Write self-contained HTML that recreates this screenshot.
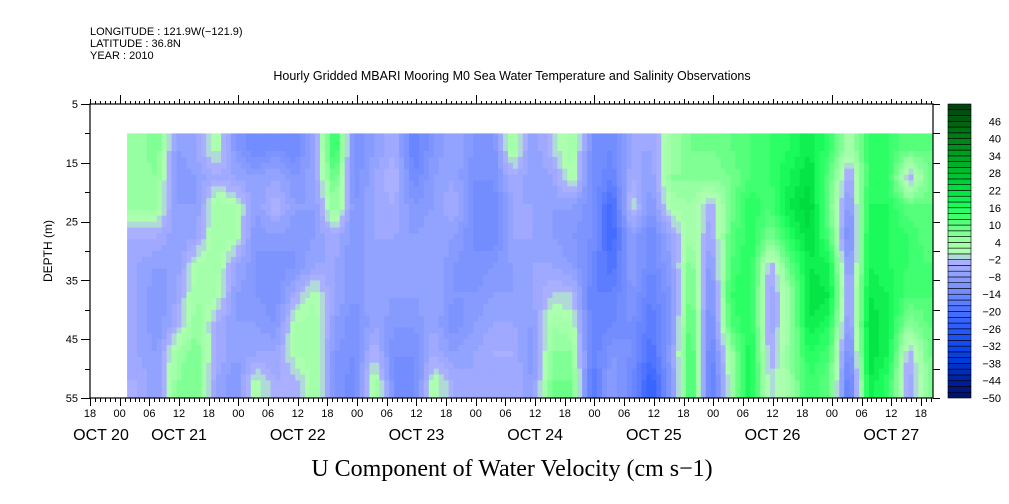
<!DOCTYPE html>
<html><head><meta charset="utf-8"><style>
body{margin:0;background:#fff;}
svg{display:block;font-family:"Liberation Sans",sans-serif;}
</style></head><body>
<svg id="chart" width="1009" height="504" viewBox="0 0 1009 504" xmlns="http://www.w3.org/2000/svg">
<text x="90" y="35" font-size="11">LONGITUDE : 121.9W(−121.9)</text>
<text x="90" y="47" font-size="11">LATITUDE : 36.8N</text>
<text x="90" y="59" font-size="11">YEAR : 2010</text>
<text x="512" y="80" font-size="12.5" text-anchor="middle">Hourly Gridded MBARI Mooring M0 Sea Water Temperature and Salinity Observations</text>
<text x="512" y="476" font-size="24" text-anchor="middle" font-family="Liberation Serif, serif">U Component of Water Velocity (cm s−1)</text>
<text x="0" y="0" font-size="12" text-anchor="middle" transform="translate(52,251) rotate(-90)">DEPTH (m)</text>
<g id="heat"></g>
<g id="axes"></g>
<g id="cbar"></g>
</svg>
<script>
// hours since Oct 20 18:00 at column start; each column spans 4 hours
const colStartHour = 7.5;
const colHours = 4;
const depthBands = [10,15,20,25,30,35,40,45,50,55];
const gridValues = [
[4,4,4,-4,-6,-6,-6,-6,-4],
[8,6,4,-4,-8,-10,-10,-8,-8],
[-8,-10,-8,-8,-8,-6,-4,4,6],
[-6,-8,-8,-6,2,4,6,8,8],
[2,-4,4,4,4,2,-4,-4,-6],
[-10,-6,2,2,-6,-8,-8,-8,-10],
[-14,-8,-8,-10,-10,-10,-8,-6,2],
[-12,-6,-2,-8,-12,-12,-10,-6,-4],
[-14,-10,-8,-10,-10,-4,2,2,-4],
[-6,-6,-8,-8,-6,2,4,4,4],
[16,10,6,-4,-6,-6,-8,-10,-10],
[-12,-12,-10,-10,-10,-10,-12,-12,-14],
[-8,-6,-6,-6,-6,-6,-6,-2,4],
[-4,-2,-4,-6,-8,-8,-10,-12,-12],
[-16,-14,-10,-8,-8,-8,-10,-12,-14],
[-10,-8,-8,-6,-6,-6,-6,-4,2],
[-6,-6,-4,-8,-10,-10,-12,-8,-4],
[-10,-12,-12,-12,-12,-10,-8,-6,-6],
[-12,-12,-14,-14,-10,-8,-6,-4,-6],
[4,-4,-6,-6,-8,-8,-6,-4,-4],
[-8,-8,-6,-6,-6,-6,-8,-10,-8],
[-2,-6,-8,-8,-6,-2,4,6,8],
[4,2,-8,-10,-8,-2,2,6,8],
[-12,-12,-12,-12,-14,-16,-16,-16,-18],
[-14,-16,-22,-22,-20,-16,-14,-10,-8],
[-6,-4,0,-8,-8,-10,-12,-12,-14],
[-6,-8,-10,-14,-14,-16,-18,-20,-24],
[4,6,2,-6,-8,-10,-10,-8,-10],
[8,6,4,4,8,10,12,14,14],
[8,6,-4,-6,-10,-12,-14,-16,-18],
[10,8,8,10,12,14,12,4,2],
[12,12,16,16,16,16,16,18,18],
[14,14,12,8,-4,-6,-6,-4,-2],
[16,18,20,16,10,4,4,6,4],
[20,22,24,22,20,22,20,16,14],
[14,10,8,12,18,20,16,12,10],
[2,-6,-10,-14,-10,-8,-10,-14,-18],
[14,14,16,18,18,20,22,22,20],
[14,14,16,16,16,18,18,18,14],
[10,-4,10,14,14,12,6,-4,-6],
[10,8,10,10,12,12,10,8,6]
];
const hourTickLabels = ["18","00","06","12","18","00","06","12","18","00","06","12","18","00","06","12","18","00","06","12","18","00","06","12","18","00","06","12","18"];
const dateLabels = ["OCT 20","OCT 21","OCT 22","OCT 23","OCT 24","OCT 25","OCT 26","OCT 27"];
const depthTicks = [5,15,25,35,45,55];
const cbarLabels = [46,40,34,28,22,16,10,4,-2,-8,-14,-20,-26,-32,-38,-44,-50];

const NS="http://www.w3.org/2000/svg";
const X0=90,X1=933,Y0=104,Y1=398,PXH=4.946;
const xs=h=>X0+h*PXH;
const ys=d=>Y0+(d-5)*(Y1-Y0)/50;
function mk(t,a,p){const e=document.createElementNS(NS,t);for(const k in a)e.setAttribute(k,a[k]);p.appendChild(e);return e;}
const stops=[[-50,[0,16,100]],[-44,[0,32,160]],[-38,[0,56,208]],[-32,[16,72,240]],[-26,[40,90,255]],[-20,[74,112,255]],[-14,[110,138,255]],[-8,[140,158,255]],[-2,[176,180,255]],[0,[176,255,176]],[4,[160,255,168]],[10,[96,255,128]],[16,[32,255,96]],[22,[0,224,64]],[28,[0,192,48]],[34,[0,160,32]],[40,[0,128,24]],[46,[0,96,16]],[52,[0,64,12]]];
function color(v){
  v=Math.max(-50,Math.min(51.9,v));
  v=Math.floor(v/2)*2+1;
  for(let i=0;i<stops.length-1;i++){const a=stops[i],b=stops[i+1];
    if(v>=a[0]&&v<=b[0]){const t=(v-a[0])/(b[0]-a[0]);const c=a[1].map((x,j)=>Math.round(x+(b[1][j]-x)*t));return `rgb(${c})`;}}
  return "rgb(0,64,12)";
}
const heat=document.getElementById('heat');
const nC=gridValues.length,nR=gridValues[0].length;
function sample(h,d){
  let cf=(h-colStartHour)/colHours-0.5, rf=(d-depthBands[0])/5-0.5;
  cf=Math.max(0,Math.min(nC-1,cf)); rf=Math.max(0,Math.min(nR-1,rf));
  const c0=Math.floor(cf),r0=Math.floor(rf),c1=Math.min(nC-1,c0+1),r1=Math.min(nR-1,r0+1);
  const tc=cf-c0,tr=rf-r0;
  const a=gridValues[c0][r0]*(1-tc)+gridValues[c1][r0]*tc;
  const b=gridValues[c0][r1]*(1-tc)+gridValues[c1][r1]*tc;
  return a*(1-tr)+b*tr;
}
const hEnd=(X1-X0)/PXH;
const dh=1, dd=1;
for(let h=colStartHour;h<hEnd;h+=dh){
  const x=xs(h), w=Math.min(xs(h+dh),X1)-x;
  for(let d=depthBands[0];d<depthBands[depthBands.length-1];d+=dd){
    const r=mk('rect',{x:x.toFixed(2),y:ys(d).toFixed(2),width:(w+0.4).toFixed(2),height:(ys(d+dd)-ys(d)+0.4).toFixed(2),fill:color(sample(h+dh/2,d+dd/2))},heat);
    
    
  }
}
const ax=document.getElementById('axes');
const fr=mk('rect',{x:X0,y:Y0,width:X1-X0,height:Y1-Y0,fill:'none',stroke:'#000','stroke-width':1.2},ax);


const total=Math.floor(hEnd);
for(let h=0;h<=total;h++){
  const x=Math.round(xs(h))+0.5;const abs=h+18;
  const day=abs%24===0, six=abs%6===0;
  mk('line',{x1:x,y1:Y1,x2:x,y2:Y1+(six?8:4),stroke:'#000'},ax);
  mk('line',{x1:x,y1:Y0,x2:x,y2:Y0-(day?9:(six?5:3)),stroke:'#000'},ax);
}
hourTickLabels.forEach((t,i)=>{
  if(xs(i*6)>X1) return;
  const e=mk('text',{x:xs(i*6),y:417,'font-size':11,'text-anchor':'middle'},ax);e.textContent=t;
  
  
});
dateLabels.forEach((t,i)=>{
  let cx=xs(i*24-6);if(i===0)cx=101;
  const e=mk('text',{x:cx,y:440,'font-size':16,'text-anchor':'middle'},ax);e.textContent=t;
  
  
});
for(let d=5;d<=55;d+=5){
  const y=Math.round(ys(d))+0.5;const maj=(d-5)%10===0;
  mk('line',{x1:X0,y1:y,x2:X0-(maj?9:5),y2:y,stroke:'#000'},ax);
  mk('line',{x1:X1,y1:y,x2:X1+7,y2:y,stroke:'#000'},ax);
}
depthTicks.forEach(d=>{
  const e=mk('text',{x:78,y:ys(d)+4,'font-size':11,'text-anchor':'end'},ax);e.textContent=d;
  
  
});
const cb=document.getElementById('cbar');
const CX=948,CW=23,nb=51,bh=(Y1-Y0)/nb;
for(let i=0;i<nb;i++){
  const v=-50+i*2+1;const y=Y1-(i+1)*bh;
  const r=mk('rect',{x:CX,y:y.toFixed(2),width:CW,height:bh.toFixed(2),fill:color(v),stroke:'#000','stroke-width':0.6},cb);
  
  
}
cbarLabels.forEach(v=>{
  const y=Y1-(v+50)/2*bh;
  const e=mk('text',{x:1001,y:y+4,'font-size':11,'text-anchor':'end'},cb);e.textContent=String(v).replace('-','−');
  
  
});
</script>
</body></html>
